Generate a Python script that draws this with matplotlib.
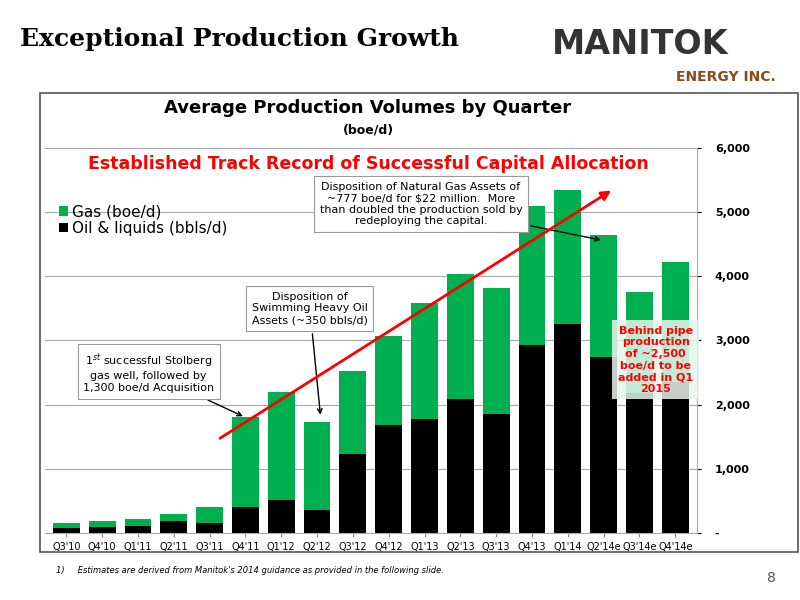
import numpy as np
import matplotlib.pyplot as plt
from matplotlib.patches import FancyArrowPatch

quarters = ["Q3'10", "Q4'10", "Q1'11", "Q2'11", "Q3'11", "Q4'11", "Q1'12", "Q2'12", "Q3'12",
            "Q4'12", "Q1'13", "Q2'13", "Q3'13", "Q4'13", "Q1'14", "Q2'14e", "Q3'14e", "Q4'14e"]
total = [150, 190, 215, 290, 400, 1800, 2200, 1725, 2520, 3070, 3580, 4045, 3815, 5100, 5350, 4640, 3755, 4230]
oil = [70, 90, 100, 180, 160, 410, 515, 360, 1230, 1680, 1780, 2090, 1850, 2925, 3250, 2740, 2180, 2360]
gas = [t - o for t, o in zip(total, oil)]
yticks = [0, 1000, 2000, 3000, 4000, 5000, 6000]
yticklabels = ['-', '1,000', '2,000', '3,000', '4,000', '5,000', '6,000']

green = '#00b050'
fig = plt.figure(figsize=(8, 6), dpi=100)
fig.patch.set_facecolor('white')

# slide header
fig.text(0.025, 0.935, 'Exceptional Production Growth', family='DejaVu Serif', fontsize=18,
         fontweight='bold', va='center')
fig.text(0.69, 0.925, 'MANITOK', fontsize=24, fontweight='bold', color='#333333', va='center')
fig.text(0.97, 0.872, 'ENERGY INC.', fontsize=10, fontweight='bold', color='#8b4a1a', ha='right', va='center')

# chart frame
fig.add_artist(plt.Rectangle((0.05, 0.08), 0.947, 0.765, transform=fig.transFigure,
                             fill=False, ec='#555555', lw=1.2))

ax = fig.add_axes([0.056, 0.112, 0.815, 0.641])
x = np.arange(len(quarters))
ax.bar(x, oil, 0.75, color='black', label='Oil & liquids (bbls/d)', zorder=2)
ax.bar(x, gas, 0.75, bottom=oil, color=green, label='Gas (boe/d)', zorder=2)
ax.set_xlim(-0.6, len(quarters) - 0.4)
ax.set_ylim(0, 6000)
ax.set_yticks(yticks)
ax.set_yticklabels(yticklabels, fontsize=8, fontweight='bold')
ax.yaxis.tick_right()
ax.tick_params(axis='y', length=3, pad=10)
ax.set_xticks(x)
ax.set_xticklabels(quarters, fontsize=7)
ax.tick_params(axis='x', length=3, color='#888888')
ax.grid(axis='y', color='#aaaaaa', lw=0.8, zorder=0)
for s in ['top', 'left']:
    ax.spines[s].set_visible(False)
ax.spines['right'].set_color('#aaaaaa')
ax.spines['bottom'].set_color('#aaaaaa')

h, l = ax.get_legend_handles_labels()
ax.legend(h[::-1], l[::-1], loc='upper left', bbox_to_anchor=(0.0, 0.89), frameon=False,
          fontsize=11, handlelength=0.6, handleheight=0.6, handletextpad=0.3, labelspacing=0.1)

fig.text(0.46, 0.812, 'Average Production Volumes by Quarter', fontsize=13, fontweight='bold', ha='center')
fig.text(0.46, 0.778, '(boe/d)', fontsize=9, fontweight='bold', ha='center')
fig.text(0.46, 0.718, 'Established Track Record of Successful Capital Allocation', fontsize=12.5,
         fontweight='bold', color='red', ha='center')

# red trend arrow
fig.add_artist(FancyArrowPatch((0.272, 0.267), (0.767, 0.685), transform=fig.transFigure,
                               arrowstyle='-|>', mutation_scale=14, color='red', lw=2))

box = dict(boxstyle='square,pad=0.5', fc='white', ec='#999999', lw=0.8)
ax.annotate("1$^{st}$ successful Stolberg\ngas well, followed by\n1,300 boe/d Acquisition",
            xy=(5, 1800), xytext=(2.3, 2500), fontsize=8, ha='center', va='center', bbox=box,
            arrowprops=dict(arrowstyle='->', color='black', lw=1))
ax.annotate("Disposition of\nSwimming Heavy Oil\nAssets (~350 bbls/d)",
            xy=(7.1, 1800), xytext=(6.8, 3500), fontsize=8, ha='center', va='center', bbox=box,
            arrowprops=dict(arrowstyle='->', color='black', lw=1))
ax.annotate("Disposition of Natural Gas Assets of\n~777 boe/d for \\$22 million.  More\nthan doubled the production sold by\nredeploying the capital.",
            xy=(15, 4560), xytext=(9.9, 5130), fontsize=8, ha='center', va='center', bbox=box,
            arrowprops=dict(arrowstyle='->', color='black', lw=1))
ax.text(16.45, 2700, "Behind pipe\nproduction\nof ~2,500\nboe/d to be\nadded in Q1\n2015", fontsize=8,
        fontweight='bold', color='red', ha='center', va='center', zorder=5,
        bbox=dict(boxstyle='square,pad=0.5', fc='#e6f5ec', ec='none', alpha=0.85))

fig.text(0.07, 0.045, "1)     Estimates are derived from Manitok's 2014 guidance as provided in the following slide.",
         fontsize=6, style='italic')
fig.text(0.97, 0.03, '8', fontsize=10, color='#555555', ha='right')

fig.savefig('out.png', dpi=100)
